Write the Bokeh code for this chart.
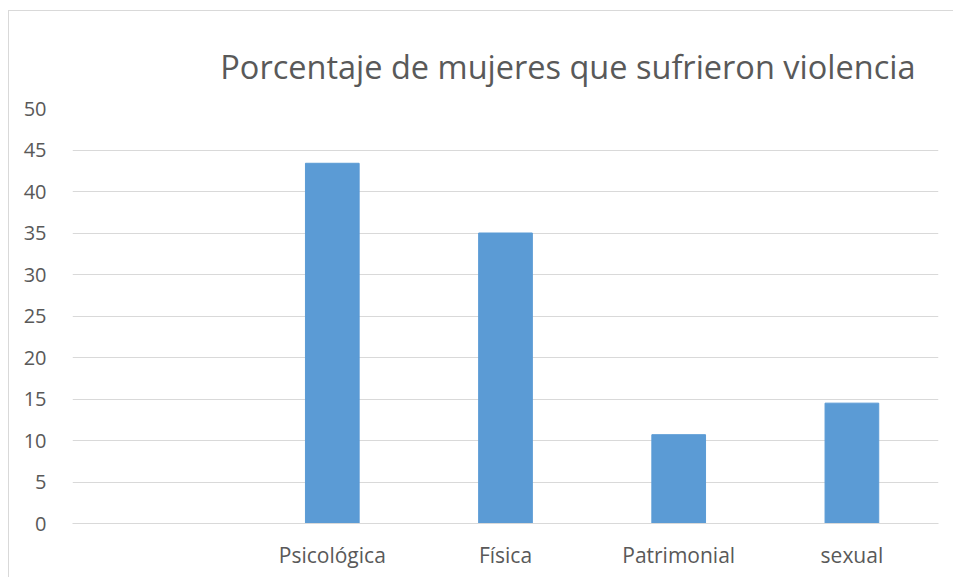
from bokeh.plotting import figure
from bokeh.models import FactorRange, ColumnDataSource, Range1d, SingleIntervalTicker
from bokeh.embed import file_html
from bokeh.resources import INLINE

categories = [" ", "Psicológica", "Física", "Patrimonial", "sexual"]
bar_categories = ["Psicológica", "Física", "Patrimonial", "sexual"]
values = [43.4, 35.0, 10.7, 14.5]
title_text = "Porcentaje de mujeres que sufrieron violencia"

src = ColumnDataSource(dict(cat=bar_categories, val=values))

p = figure(x_range=FactorRange(*categories), y_range=Range1d(0, 50),
           width=945, height=567, output_backend="svg", toolbar_location=None,
           min_border_left=63, min_border_right=16, min_border_top=97, min_border_bottom=55)
p.styles = {"border-left": "1px solid #d9d9d9", "border-top": "1px solid #d9d9d9",
            "margin-top": "10px", "margin-left": "8px"}
p.x_range.range_padding = 0
p.vbar(x="cat", top="val", width=0.31, source=src, color="#5b9bd5")

p.title.text = title_text
p.title.align = "right"
p.title.offset = 23
p.title.text_font = "Open Sans"
p.title.text_font_style = "normal"
p.title.text_font_size = "32.5px"
p.title.text_color = "#595959"
p.title.standoff = 39

p.outline_line_color = None
p.background_fill_color = "white"
p.border_fill_color = "white"

p.yaxis.ticker = SingleIntervalTicker(interval=5)
p.yaxis.axis_line_color = None
p.yaxis.major_tick_line_color = None
p.yaxis.minor_tick_line_color = None
p.yaxis.major_label_text_font = "Open Sans"
p.yaxis.major_label_text_font_size = "20px"
p.yaxis.major_label_text_color = "#595959"
p.yaxis.major_label_standoff = 20

p.xaxis.axis_line_color = "#d9d9d9"
p.xaxis.major_tick_line_color = None
p.xaxis.minor_tick_line_color = None
p.xaxis.major_label_text_font = "Open Sans"
p.xaxis.major_label_text_font_size = "21px"
p.xaxis.major_label_text_color = "#595959"
p.xaxis.major_label_standoff = 11

p.xgrid.grid_line_color = None
p.ygrid.grid_line_color = "#d9d9d9"
p.ygrid.grid_line_width = 1

open("out.html", "w").write(file_html(p, INLINE))
